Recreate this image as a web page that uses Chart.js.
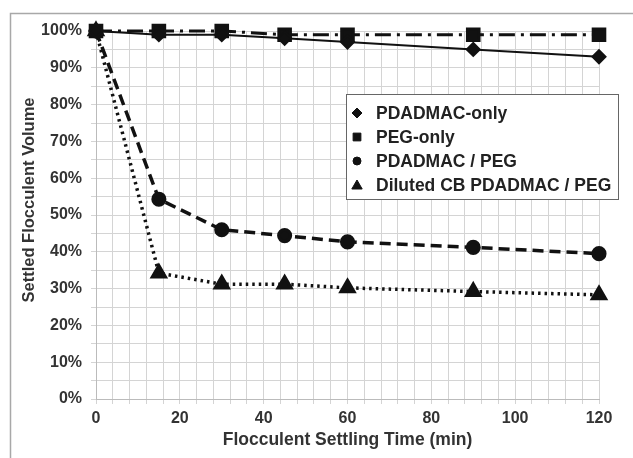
<!DOCTYPE html>
<html>
<head>
<meta charset="utf-8">
<script src="https://cdn.jsdelivr.net/npm/chart.js@4/dist/chart.umd.min.js"></script>
<style>
  html, body { margin: 0; padding: 0; background: #fff; }
  #wrap { width: 633px; height: 458px; position: relative; }
</style>
</head>
<body>
<div id="wrap"><canvas id="chart" width="633" height="458"></canvas></div>
<script>
// Settling time (min)
const times = [0, 15, 30, 45, 60, 90, 120];

// Settled flocculent volume (%)
const pdadmacOnly = [100, 99, 99, 98, 97, 95, 93];
const pegOnly = [100, 100, 100, 99, 99, 99, 99];
const pdadmacPeg = [100, 54.3, 46, 44.4, 42.7, 41.2, 39.5];
const dilutedCb = [100, 34.2, 31.2, 31.2, 30.2, 29.2, 28.3];

const seriesNames = ['PDADMAC-only', 'PEG-only', 'PDADMAC / PEG', 'Diluted CB PDADMAC / PEG'];
const yTitle = 'Settled Flocculent Volume';

const ink = '#111';
const font = 'Arial, "Liberation Sans", sans-serif';

function toPoints(values) {
    return times.map((t, i) => ({ x: t, y: values[i] }));
}

// outer frame + y title (placed by hand like the original figure)
const framePlugin = {
    id: 'frame',
    beforeDraw(chart) {
        const ctx = chart.ctx;
        ctx.save();
        ctx.strokeStyle = '#a8a8a8';
        ctx.lineWidth = 1.5;
        ctx.beginPath();
        ctx.moveTo(10.5, 458);
        ctx.lineTo(10.5, 13.5);
        ctx.lineTo(633, 13.5);
        ctx.stroke();

        ctx.translate(29, 200);
        ctx.rotate(-Math.PI / 2);
        ctx.font = 'bold 16.5px ' + font;
        ctx.fillStyle = '#333';
        ctx.textAlign = 'center';
        ctx.textBaseline = 'middle';
        ctx.fillText(yTitle, 0, 0);
        ctx.restore();
    }
};

// boxed legend inside the plot area
const boxLegend = {
    id: 'boxLegend',
    afterDraw(chart) {
        const ctx = chart.ctx;
        const left = 346.5, top = 94.5, w = 272, h = 105;
        ctx.save();
        ctx.fillStyle = '#fff';
        ctx.fillRect(left, top, w, h);
        ctx.strokeStyle = '#666';
        ctx.lineWidth = 1;
        ctx.strokeRect(left, top, w, h);
        const styles = [
            { style: 'rectRot', r: 5 },
            { style: 'rect', r: 5.5 },
            { style: 'circle', r: 4 },
            { style: 'triangle', r: 6 }
        ];
        ctx.font = 'bold 17.5px ' + font;
        ctx.textBaseline = 'middle';
        seriesNames.forEach((name, i) => {
            const y = 113 + i * 24;
            ctx.fillStyle = ink;
            ctx.strokeStyle = ink;
            Chart.helpers.drawPoint(ctx, { pointStyle: styles[i].style, radius: styles[i].r, borderWidth: 1 }, 357, i === 3 ? y + 1 : y);
            ctx.fillStyle = '#222';
            ctx.fillText(name, 376, y + 1);
        });
        ctx.restore();
    }
};

const ctx = document.getElementById('chart').getContext('2d');
new Chart(ctx, {
    type: 'line',
    data: {
        datasets: [
            {
                label: seriesNames[0],
                data: toPoints(pdadmacOnly),
                borderColor: ink,
                backgroundColor: ink,
                borderWidth: 2,
                pointStyle: 'rectRot',
                pointRadius: 6.5,
                clip: false,
                tension: 0
            },
            {
                label: seriesNames[1],
                data: toPoints(pegOnly),
                borderColor: ink,
                backgroundColor: ink,
                borderWidth: 3,
                borderDash: [16, 6, 3, 6],
                pointStyle: 'rect',
                pointRadius: 8.2,
                clip: false,
                tension: 0
            },
            {
                label: seriesNames[2],
                data: toPoints(pdadmacPeg),
                borderColor: ink,
                backgroundColor: ink,
                borderWidth: 3.5,
                borderDash: [11, 6],
                pointStyle: 'circle',
                pointRadius: 5.8,
                clip: false,
                tension: 0
            },
            {
                label: seriesNames[3],
                data: toPoints(dilutedCb),
                borderColor: ink,
                backgroundColor: ink,
                borderWidth: 3.5,
                borderDash: [2.5, 4],
                pointStyle: 'triangle',
                pointRadius: 7.2,
                clip: false,
                tension: 0
            }
        ]
    },
    options: {
        responsive: false,
        animation: false,
        layout: { padding: { left: 0, right: 34, top: 31, bottom: 0 } },
        plugins: {
            legend: { display: false },
            tooltip: { enabled: false }
        },
        scales: {
            x: {
                type: 'linear',
                min: 0,
                max: 120,
                afterFit: s => { s.height = 59; },
                grid: { color: '#d4d4d4', lineWidth: 1, tickLength: 5, drawTicks: true },
                border: { color: '#bbb' },
                ticks: {
                    stepSize: 4,
                    autoSkip: false,
                    maxRotation: 0,
                    padding: 5,
                    color: '#333',
                    font: { family: font, size: 16, weight: 'bold' },
                    callback: v => (v % 20 === 0 ? String(v) : '')
                },
                title: {
                    display: true,
                    text: 'Flocculent Settling Time (min)',
                    color: '#333',
                    font: { family: font, size: 17.5, weight: 'bold' },
                    padding: { top: 0, bottom: 7 }
                }
            },
            y: {
                min: 0,
                max: 100,
                afterFit: s => { s.width = 96; },
                grid: { color: '#d4d4d4', lineWidth: 1, tickLength: 5 },
                border: { color: '#bbb' },
                ticks: {
                    stepSize: 5,
                    autoSkip: false,
                    padding: 9,
                    color: '#333',
                    font: { family: font, size: 16, weight: 'bold' },
                    callback: v => (v % 10 === 0 ? v + '%' : '')
                }
            }
        }
    },
    plugins: [framePlugin, boxLegend]
});
</script>
</body>
</html>
